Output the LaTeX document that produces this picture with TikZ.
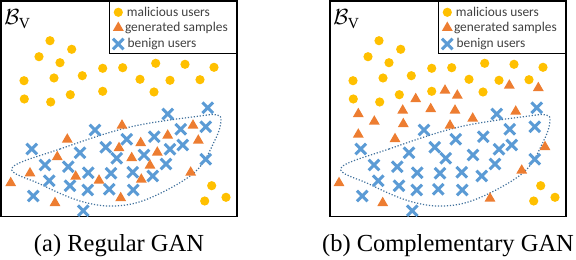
\documentclass[tikz,border=0pt]{standalone}
\usepackage{fontspec}
\setmainfont{Liberation Serif}
\newfontfamily\legendfont{Carlito}
\usepackage{tikz}
\usetikzlibrary{positioning,shapes.geometric,shapes.misc}
\definecolor{MalYellow}{RGB}{255,192,0}
\definecolor{GenOrange}{RGB}{237,125,49}
\definecolor{BenBlue}{RGB}{91,155,213}
\definecolor{LoopBlue}{RGB}{65,113,156}
\definecolor{LegendText}{RGB}{64,64,64}

\begin{document}
\begin{tikzpicture}[x=0.5pt,y=-0.5pt,
  maluser/.style={circle,fill=MalYellow,inner sep=0pt,minimum size=4.6pt},
  gensample/.style={regular polygon,regular polygon sides=3,fill=GenOrange,inner sep=0pt,minimum size=6.3pt},
  benuser/.style={cross out,draw=BenBlue,line width=1.5pt,inner sep=0pt,minimum size=3.8pt},
  legtext/.style={font=\legendfont\fontsize{6.7}{8}\selectfont,text=LegendText,inner sep=0pt},
  subcap/.style={font=\fontsize{12.25}{14}\selectfont,anchor=base,inner sep=0pt}]
  \useasboundingbox (0,0) rectangle (576,260);

  \foreach \p/\dx/\cap in {a/0/(a) Regular GAN,b/329/(b) Complementary GAN}{
  \begin{scope}[shift={(\dx,0)}]
    \draw[line width=0.75pt] (1,1) rectangle (237,216.5);
    \draw[line width=0.5pt] (109,0.5) rectangle (237,54);
    \node[anchor=base west,inner sep=0pt,font=\fontsize{11}{13}\selectfont] (\p-title) at (4,25) {$\mathcal{B}_{\mathrm{V}}$};
    \node[maluser] (\p-legmal) at (118.3,12.3) {};
    \node[legtext,right=1.6pt of \p-legmal] (\p-legmaltext) {malicious users};
    \node[gensample] (\p-leggen) at (118.3,27.8) {};
    \node[legtext,right=1.1pt of \p-leggen] (\p-leggentext) {generated samples};
    \node[benuser] (\p-legben) at (118.3,44) {};
    \node[legtext,right=1.8pt of \p-legben] (\p-legbentext) {benign users};
    \node[subcap] (\p-cap) at (119,251.5) {\cap};

    \draw[LoopBlue,line width=0.6pt,dash pattern=on 0.6pt off 0.9pt]
      plot[smooth cycle,tension=0.6] coordinates {(12,168) (60,149) (130,127) (200,116) (217,115)
        (221,121) (215,140) (195,172) (150,198) (115,206) (80,201) (40,184)};

    \foreach \x/\y [count=\i] in {50/40.7,71.7/49.3,39/56.7,60/62.7,102.7/68.3,122.7/67.7,155.7/63.3,
      185/64.3,214/67.3,24/80.7,54/78,82.3/75.7,140/79.3,170/80.3,200/79.7,24.3/99,50.7/102,
      70.3/94.7,102.7/91.3,154/92,211.7/185.7,204.7/201,226/197.3}
      \node[maluser] (\p-mal-\i) at (\x,\y) {};

    \foreach \x/\y [count=\i] in {167.7/114,207.7/107.7,95/130,180.7/129.3,205.7/126.7,126.7/139.3,
      154.3/136.7,105.7/147.3,182.7/145,31.7/149,80/152.7,170/149.3,144/155,116.7/158.3,205.7/159.3,
      45/165,68.3/166.7,166/164,88.3/172.7,111/173.3,132.7/172.3,152.7/176,49.3/180.7,70/185.7,
      87.7/190,109.3/189.3,133.3/190,33.3/196,83.3/210.7}
      \node[benuser] (\p-ben-\i) at (\x,\y) {};
  \end{scope}
  }

  \foreach \x/\y [count=\i] in {122/125.5,67.3/139.5,193/125.5,167.7/135.5,140.7/143,119/148,
    198.3/140.5,157.3/152.5,57.3/157,131.7/158,150/165.5,30/173.3,75.7/176.5,99/180.5,141.3/179.5,
    190.7/172.5,10.7/183,55/203,120.7/198}
    \node[gensample] (a-gen-\i) at (\x,\y) {};

  \begin{scope}[shift={(329,0)}]
    \foreach \x/\y [count=\i] in {116/90.5,180.3/85.5,209.3/88,86.7/99,128.3/95.5,29.3/114,73.7/110.5,
      101.7/109,126/110.5,186.7/111.5,45.3/121.5,74.3/124,143.7/118.5,121/125.5,29.3/134.5,66/139,
      216/147,192.7/170.5,10/183,53.7/203,161/198.5}
      \node[gensample] (b-gen-\i) at (\x,\y) {};
  \end{scope}
\end{tikzpicture}
\end{document}
